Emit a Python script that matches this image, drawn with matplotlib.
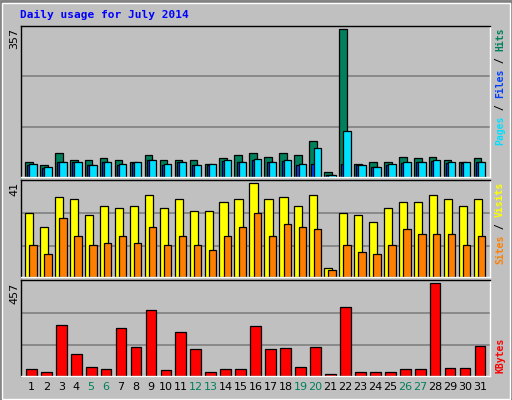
import matplotlib
matplotlib.use("Agg")
import matplotlib.pyplot as plt
from matplotlib.patches import Rectangle

days = list(range(1, 32))
weekends = [5, 6, 12, 13, 19, 20, 26, 27]
hits = [37,30,57,40,42,47,42,37,52,40,40,40,32,47,52,57,49,57,54,88,11,357,32,35,35,49,47,49,42,37,47]
files = [32,23,37,37,30,37,32,35,42,32,37,30,32,40,37,44,37,40,32,69,6,110,30,25,32,35,37,40,35,35,37]
pages = [30,21,35,35,28,35,30,33,40,30,35,28,30,38,35,42,35,38,30,32,5,32,28,23,30,33,35,38,33,33,35]
visits = [28,22,35,34,27,31,30,31,36,30,34,29,29,33,34,41,34,35,31,36,4,28,27,24,30,33,33,36,34,31,34]
sites = [14,10,26,18,14,15,18,15,22,14,18,14,12,18,22,28,18,23,22,21,3,14,11,10,14,21,19,19,19,14,18]
kbytes = [32,22,252,107,42,32,237,142,322,27,217,132,22,32,32,247,132,137,42,142,12,337,22,22,22,32,32,457,37,37,147]

W, H = 512, 400
fig = plt.figure(figsize=(W/100, H/100), dpi=100)
fig.patch.set_facecolor('#C0C0C0')
# bevel border
fig.add_artist(Rectangle((0.5/W, 0.5/H), 1-1/W, 1-1/H, transform=fig.transFigure,
                         fill=False, edgecolor='#808080', lw=2))
fig.add_artist(Rectangle((1.5/W, 1.5/H), 1-4/W, 1-4/H, transform=fig.transFigure,
                         fill=False, edgecolor='white', lw=1))

mono = 'DejaVu Sans Mono'
fig.text(20/W, 1-15/H, 'Daily usage for July 2014', color='#0000FF', fontsize=8,
         fontweight='bold', family=mono, va='center', ha='left')

def mkax(top, bot):
    ax = fig.add_axes([21/W, 1-bot/H, 469/W, (bot-top)/H])
    ax.set_facecolor('#C0C0C0')
    ax.set_xlim(0.31, 31.67)
    ax.set_xticks([])
    ax.set_yticks([])
    for s in ax.spines.values():
        s.set_color('black'); s.set_linewidth(1)
    ax.spines['right'].set_color('white'); ax.spines['bottom'].set_color('white')
    return ax

def grid(ax, m):
    for f in (0.335, 0.68):
        ax.axhline(m*f, color='#808080', lw=1.2, zorder=0)

ek = dict(edgecolor='black', linewidth=0.9, align='edge', zorder=2)
ax1 = mkax(26, 177)
m1 = max(hits); ax1.set_ylim(0, m1*1.02); grid(ax1, m1)
ax1.bar([d-0.42 for d in days], hits, 0.51, color='#00805C', **ek)
ax1.bar([d-0.27 for d in days], pages, 0.49, color='#0040FF', **ek)
ax1.bar([d-0.13 for d in days], files, 0.49, color='#00E0FF', **ek)

ax2 = mkax(180, 277)
m2 = max(visits); ax2.set_ylim(0, m2*1.035); grid(ax2, m2)
ax2.bar([d-0.42 for d in days], visits, 0.55, color='#FFFF00', **ek)
ax2.bar([d-0.13 for d in days], sites, 0.49, color='#FF8000', **ek)

ax3 = mkax(280, 376)
m3 = max(kbytes); ax3.set_ylim(0, m3*1.03); grid(ax3, m3)
ax3.bar([d-0.36 for d in days], kbytes, 0.72, color='#FF0000', **ek)

# day labels
for d in days:
    x = 21 + (d-0.31)/(31.67-0.31)*469
    fig.text(x/W, 1-387/H, str(d), ha='center', va='center', fontsize=8,
             color='#00805C' if d in weekends else 'black', family='DejaVu Sans')

# left max labels
for val, y in ((max(hits), 28), (max(visits), 182), (max(kbytes), 283)):
    fig.text(14/W, 1-y/H, str(val), rotation=90, ha='center', va='top', fontsize=8,
             family='DejaVu Sans')

fs = 7
adv = 0.602*fs*100/72
def vlabel(parts, ytop):
    total = sum(len(p) for p, c in parts)
    y = ytop + total*adv
    for p, c in parts:
        fig.text(500/W, 1-y/H, p, rotation=90, ha='center', va='bottom', fontsize=fs,
                 family=mono, fontweight='bold', color=c)
        y -= len(p)*adv

vlabel([('Pages', '#00E0FF'), (' / ', 'black'), ('Files', '#0040FF'),
        (' / ', 'black'), ('Hits', '#00805C')], 28)
vlabel([('Sites', '#FF8000'), (' / ', 'black'), ('Visits', '#FFFF00')], 182)
vlabel([('KBytes', '#FF0000')], 338)

fig.savefig('out.png', dpi=100, facecolor=fig.get_facecolor())
